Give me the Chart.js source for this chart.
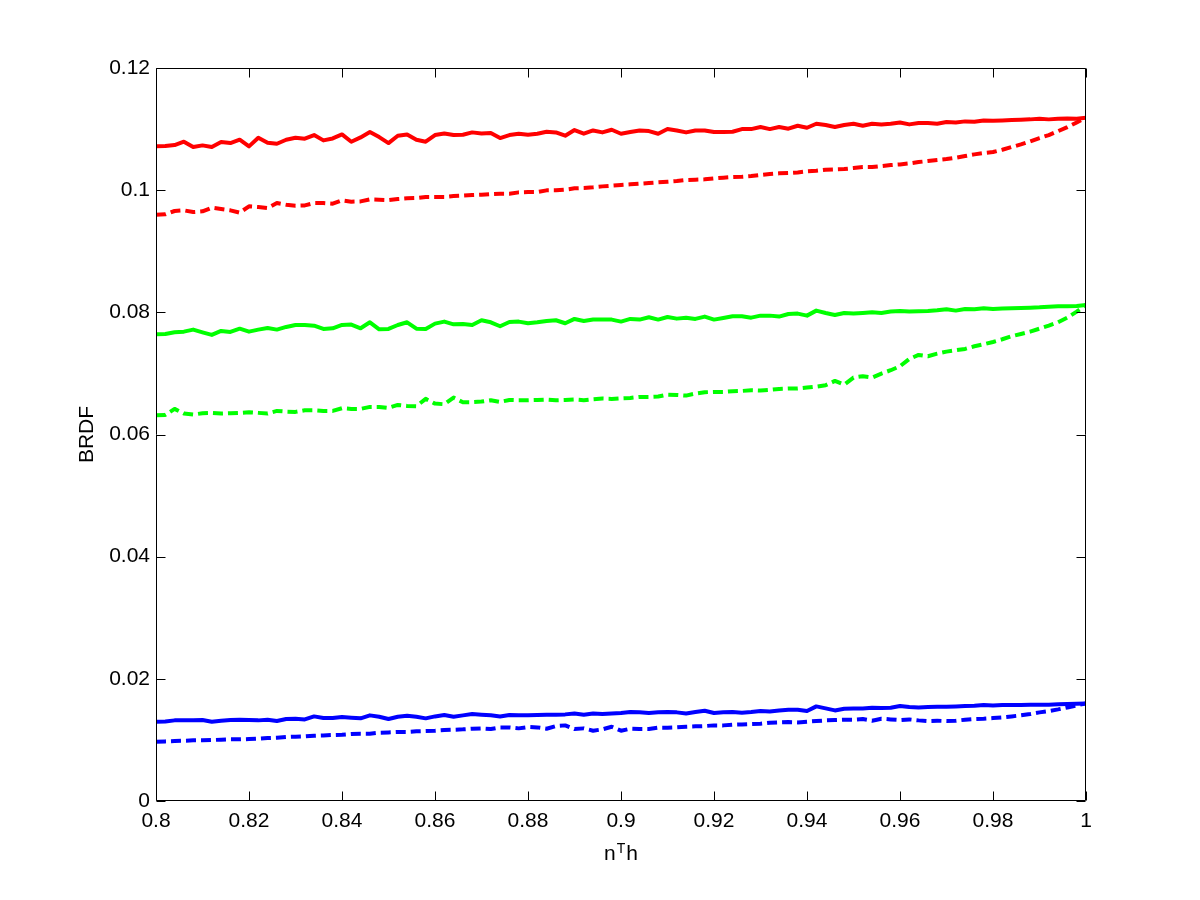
<!DOCTYPE html>
<html>
<head>
<meta charset="utf-8">
<script src="https://cdn.jsdelivr.net/npm/chart.js@4.4.1/dist/chart.umd.min.js"></script>
<style>
  html, body { margin: 0; padding: 0; background: #fff; }
  #wrap { width: 1200px; height: 900px; }
</style>
</head>
<body>
<div id="wrap"><canvas id="brdf" width="1200" height="900"></canvas></div>
<script>
// BRDF vs n^T h, solid and dashed curves per colour channel

const nTh = [
  0.800, 0.802, 0.804, 0.806, 0.808, 0.810, 0.812, 0.814, 0.816, 0.818,
  0.820, 0.822, 0.824, 0.826, 0.828, 0.830, 0.832, 0.834, 0.836, 0.838,
  0.840, 0.842, 0.844, 0.846, 0.848, 0.850, 0.852, 0.854, 0.856, 0.858,
  0.860, 0.862, 0.864, 0.866, 0.868, 0.870, 0.872, 0.874, 0.876, 0.878,
  0.880, 0.882, 0.884, 0.886, 0.888, 0.890, 0.892, 0.894, 0.896, 0.898,
  0.900, 0.902, 0.904, 0.906, 0.908, 0.910, 0.912, 0.914, 0.916, 0.918,
  0.920, 0.922, 0.924, 0.926, 0.928, 0.930, 0.932, 0.934, 0.936, 0.938,
  0.940, 0.942, 0.944, 0.946, 0.948, 0.950, 0.952, 0.954, 0.956, 0.958,
  0.960, 0.962, 0.964, 0.966, 0.968, 0.970, 0.972, 0.974, 0.976, 0.978,
  0.980, 0.982, 0.984, 0.986, 0.988, 0.990, 0.992, 0.994, 0.996, 0.998,
  1.000
];

const redSolid = [
  0.10717, 0.10722, 0.10738, 0.10793, 0.10706, 0.10733, 0.10706, 0.10787, 0.10771, 0.10826,
  0.10717, 0.10858, 0.10776, 0.10760, 0.10826, 0.10858, 0.10842, 0.10902, 0.10815, 0.10847,
  0.10913, 0.10793, 0.10864, 0.10951, 0.10869, 0.10771, 0.10891, 0.10913, 0.10826, 0.10793,
  0.10902, 0.10929, 0.10902, 0.10907, 0.10946, 0.10929, 0.10935, 0.10853, 0.10902, 0.10924,
  0.10907, 0.10924, 0.10957, 0.10946, 0.10891, 0.10984, 0.10924, 0.10978, 0.10946, 0.10989,
  0.10924, 0.10951, 0.10978, 0.10967, 0.10924, 0.11000, 0.10978, 0.10946, 0.10978, 0.10978,
  0.10951, 0.10951, 0.10957, 0.11000, 0.11000, 0.11033, 0.11000, 0.11033, 0.11006, 0.11055,
  0.11022, 0.11087, 0.11066, 0.11033, 0.11066, 0.11087, 0.11055, 0.11087, 0.11077, 0.11087,
  0.11109, 0.11077, 0.11098, 0.11098, 0.11087, 0.11115, 0.11109, 0.11126, 0.11120, 0.11142,
  0.11137, 0.11142, 0.11148, 0.11153, 0.11159, 0.11169, 0.11159, 0.11169, 0.11175, 0.11169,
  0.11186
];

const redDashed = [
  0.09599, 0.09604, 0.09659, 0.09670, 0.09642, 0.09653, 0.09713, 0.09691, 0.09670, 0.09631,
  0.09735, 0.09724, 0.09708, 0.09789, 0.09762, 0.09746, 0.09751, 0.09789, 0.09789, 0.09778,
  0.09833, 0.09811, 0.09816, 0.09849, 0.09844, 0.09838, 0.09855, 0.09866, 0.09871, 0.09888,
  0.09888, 0.09888, 0.09904, 0.09910, 0.09920, 0.09926, 0.09937, 0.09942, 0.09942, 0.09964,
  0.09969, 0.09969, 0.09997, 0.09997, 0.10008, 0.10030, 0.10035, 0.10046, 0.10062, 0.10073,
  0.10084, 0.10095, 0.10106, 0.10117, 0.10128, 0.10138, 0.10149, 0.10166, 0.10171, 0.10177,
  0.10193, 0.10204, 0.10215, 0.10220, 0.10231, 0.10248, 0.10264, 0.10275, 0.10280, 0.10291,
  0.10308, 0.10318, 0.10335, 0.10340, 0.10346, 0.10362, 0.10378, 0.10378, 0.10395, 0.10411,
  0.10422, 0.10438, 0.10460, 0.10477, 0.10493, 0.10509, 0.10531, 0.10558, 0.10586, 0.10608,
  0.10624, 0.10662, 0.10706, 0.10749, 0.10798, 0.10853, 0.10902, 0.10967, 0.11033, 0.11109,
  0.11186
];

const greenSolid = [
  0.07641, 0.07646, 0.07673, 0.07684, 0.07717, 0.07673, 0.07630, 0.07695, 0.07679, 0.07733,
  0.07684, 0.07717, 0.07744, 0.07717, 0.07761, 0.07793, 0.07793, 0.07782, 0.07728, 0.07739,
  0.07793, 0.07799, 0.07739, 0.07837, 0.07722, 0.07728, 0.07793, 0.07837, 0.07733, 0.07728,
  0.07815, 0.07848, 0.07804, 0.07810, 0.07793, 0.07870, 0.07837, 0.07772, 0.07842, 0.07848,
  0.07821, 0.07837, 0.07859, 0.07870, 0.07821, 0.07892, 0.07859, 0.07881, 0.07881, 0.07881,
  0.07848, 0.07892, 0.07881, 0.07919, 0.07881, 0.07924, 0.07897, 0.07913, 0.07892, 0.07930,
  0.07881, 0.07908, 0.07935, 0.07935, 0.07913, 0.07946, 0.07946, 0.07930, 0.07973, 0.07979,
  0.07946, 0.08028, 0.07990, 0.07957, 0.07990, 0.07979, 0.07990, 0.08001, 0.07990, 0.08012,
  0.08022, 0.08012, 0.08017, 0.08022, 0.08033, 0.08050, 0.08028, 0.08055, 0.08050, 0.08066,
  0.08055, 0.08061, 0.08066, 0.08071, 0.08077, 0.08082, 0.08093, 0.08099, 0.08099, 0.08104,
  0.08121
];

const greenDashed = [
  0.06315, 0.06321, 0.06419, 0.06343, 0.06326, 0.06348, 0.06354, 0.06343, 0.06348, 0.06354,
  0.06364, 0.06354, 0.06343, 0.06386, 0.06375, 0.06370, 0.06397, 0.06397, 0.06386, 0.06386,
  0.06430, 0.06419, 0.06419, 0.06452, 0.06452, 0.06435, 0.06484, 0.06468, 0.06463, 0.06583,
  0.06506, 0.06495, 0.06604, 0.06528, 0.06528, 0.06539, 0.06561, 0.06534, 0.06566, 0.06561,
  0.06561, 0.06566, 0.06572, 0.06561, 0.06566, 0.06572, 0.06561, 0.06577, 0.06588, 0.06583,
  0.06593, 0.06599, 0.06615, 0.06615, 0.06621, 0.06653, 0.06648, 0.06637, 0.06670, 0.06692,
  0.06697, 0.06697, 0.06708, 0.06713, 0.06724, 0.06719, 0.06730, 0.06746, 0.06752, 0.06752,
  0.06768, 0.06784, 0.06806, 0.06877, 0.06817, 0.06932, 0.06954, 0.06932, 0.06997, 0.07052,
  0.07117, 0.07237, 0.07303, 0.07281, 0.07324, 0.07357, 0.07379, 0.07401, 0.07444, 0.07477,
  0.07515, 0.07559, 0.07608, 0.07646, 0.07684, 0.07733, 0.07782, 0.07837, 0.07913, 0.08012,
  0.08121
];

const blueSolid = [
  0.01298, 0.01303, 0.01320, 0.01320, 0.01320, 0.01325, 0.01298, 0.01314, 0.01325, 0.01331,
  0.01325, 0.01320, 0.01331, 0.01309, 0.01342, 0.01347, 0.01336, 0.01385, 0.01358, 0.01358,
  0.01374, 0.01363, 0.01353, 0.01402, 0.01380, 0.01342, 0.01380, 0.01396, 0.01380, 0.01353,
  0.01385, 0.01407, 0.01380, 0.01402, 0.01423, 0.01413, 0.01402, 0.01385, 0.01407, 0.01402,
  0.01402, 0.01407, 0.01413, 0.01413, 0.01418, 0.01434, 0.01413, 0.01434, 0.01423, 0.01434,
  0.01440, 0.01456, 0.01451, 0.01440, 0.01451, 0.01456, 0.01451, 0.01434, 0.01456, 0.01478,
  0.01440, 0.01451, 0.01456, 0.01445, 0.01456, 0.01472, 0.01467, 0.01483, 0.01494, 0.01494,
  0.01472, 0.01549, 0.01516, 0.01483, 0.01511, 0.01516, 0.01516, 0.01527, 0.01522, 0.01527,
  0.01554, 0.01538, 0.01532, 0.01538, 0.01543, 0.01543, 0.01549, 0.01554, 0.01560, 0.01571,
  0.01565, 0.01571, 0.01571, 0.01571, 0.01576, 0.01576, 0.01576, 0.01582, 0.01587, 0.01593,
  0.01598
];

const blueDashed = [
  0.00971, 0.00976, 0.00982, 0.00987, 0.00993, 0.00993, 0.00998, 0.01004, 0.01009, 0.01009,
  0.01014, 0.01020, 0.01031, 0.01036, 0.01047, 0.01053, 0.01058, 0.01069, 0.01074, 0.01080,
  0.01085, 0.01096, 0.01102, 0.01102, 0.01118, 0.01123, 0.01129, 0.01129, 0.01140, 0.01145,
  0.01151, 0.01162, 0.01167, 0.01173, 0.01183, 0.01189, 0.01178, 0.01205, 0.01205, 0.01189,
  0.01211, 0.01205, 0.01183, 0.01227, 0.01238, 0.01178, 0.01189, 0.01151, 0.01173, 0.01216,
  0.01151, 0.01183, 0.01178, 0.01178, 0.01200, 0.01200, 0.01205, 0.01216, 0.01222, 0.01227,
  0.01238, 0.01238, 0.01249, 0.01254, 0.01260, 0.01265, 0.01282, 0.01287, 0.01292, 0.01287,
  0.01298, 0.01309, 0.01320, 0.01325, 0.01331, 0.01331, 0.01342, 0.01314, 0.01347, 0.01336,
  0.01325, 0.01336, 0.01320, 0.01309, 0.01314, 0.01309, 0.01314, 0.01331, 0.01342, 0.01347,
  0.01358, 0.01369, 0.01385, 0.01402, 0.01423, 0.01451, 0.01472, 0.01500, 0.01532, 0.01565,
  0.01598
];

const xTicks = [0.8, 0.82, 0.84, 0.86, 0.88, 0.9, 0.92, 0.94, 0.96, 0.98, 1];
const xTickLabels = ["0.8", "0.82", "0.84", "0.86", "0.88", "0.9", "0.92", "0.94", "0.96", "0.98", "1"];
const yTicks = [0, 0.02, 0.04, 0.06, 0.08, 0.1, 0.12];
const yTickLabels = ["0", "0.02", "0.04", "0.06", "0.08", "0.1", "0.12"];

const FONT = "'Liberation Sans', Arial, Helvetica, sans-serif";
Chart.defaults.font.family = FONT;
Chart.defaults.color = "#000";

function series(label, values, color, dashed) {
  return {
    label: label,
    data: nTh.map((x, i) => ({ x: x, y: values[i] })),
    borderColor: color,
    backgroundColor: color,
    borderWidth: 4,
    borderDash: dashed ? [10, 5] : [],
    borderJoinStyle: "round",
    pointRadius: 0,
    fill: false,
    tension: 0
  };
}

// white background, box with inward ticks on all four sides, and the n^T h label
const matlabFrame = {
  id: "matlabFrame",
  beforeDraw(c) {
    const ctx = c.ctx;
    ctx.save();
    ctx.fillStyle = "#fff";
    ctx.fillRect(0, 0, c.width, c.height);
    ctx.restore();
  },
  afterDraw(c) {
    const { ctx, chartArea: a, scales: { x, y } } = c;
    const L = Math.round(a.left) + 0.5, R = Math.round(a.right) - 0.5;
    const T = Math.round(a.top) + 0.5, B = Math.round(a.bottom) - 0.5;
    const tick = 9;
    ctx.save();
    ctx.strokeStyle = "#000";
    ctx.lineWidth = 1;
    ctx.beginPath();
    ctx.rect(L, T, R - L, B - T);
    xTicks.forEach(v => {
      const px = Math.round(x.getPixelForValue(v)) + 0.5;
      ctx.moveTo(px, B); ctx.lineTo(px, B - tick);
      ctx.moveTo(px, T); ctx.lineTo(px, T + tick);
    });
    yTicks.forEach(v => {
      const py = Math.round(y.getPixelForValue(v)) + 0.5;
      ctx.moveTo(L, py); ctx.lineTo(L + tick, py);
      ctx.moveTo(R, py); ctx.lineTo(R - tick, py);
    });
    ctx.stroke();

    // x label: n^T h
    ctx.fillStyle = "#000";
    ctx.textBaseline = "alphabetic";
    ctx.textAlign = "left";
    const big = "21px " + FONT, small = "14px " + FONT;
    ctx.font = big;
    const wn = ctx.measureText("n").width, wh = ctx.measureText("h").width;
    ctx.font = small;
    const wt = ctx.measureText("T").width;
    const cx = (a.left + a.right) / 2;
    let sx = cx - (wn + wt + wh + 2) / 2;
    ctx.font = big;
    ctx.fillText("n", sx, 860);
    ctx.font = small;
    ctx.fillText("T", sx + wn + 1, 853);
    ctx.font = big;
    ctx.fillText("h", sx + wn + wt + 2, 860);
    ctx.restore();
  }
};

new Chart(document.getElementById("brdf"), {
  type: "line",
  data: {
    datasets: [
      series("red", redSolid, "#ff0000", false),
      series("red dashed", redDashed, "#ff0000", true),
      series("green", greenSolid, "#00ff00", false),
      series("green dashed", greenDashed, "#00ff00", true),
      series("blue", blueSolid, "#0000ff", false),
      series("blue dashed", blueDashed, "#0000ff", true)
    ]
  },
  options: {
    responsive: false,
    animation: false,
    layout: { padding: { top: 68, right: 114, left: 0, bottom: 0 } },
    plugins: { legend: { display: false }, tooltip: { enabled: false } },
    scales: {
      x: {
        type: "linear",
        min: 0.8,
        max: 1,
        grid: { display: false, drawTicks: false },
        border: { display: false },
        afterBuildTicks: s => { s.ticks = xTicks.map(v => ({ value: v })); },
        afterFit: s => { s.height = 99; },
        ticks: {
          callback: (v, i) => xTickLabels[i],
          padding: 8,
          maxRotation: 0,
          autoSkip: false,
          color: "#000",
          font: { size: 21 }
        }
      },
      y: {
        type: "linear",
        min: 0,
        max: 0.12,
        grid: { display: false, drawTicks: false },
        border: { display: false },
        afterBuildTicks: s => { s.ticks = yTicks.map(v => ({ value: v })); },
        afterFit: s => { s.width = 156; },
        ticks: {
          callback: (v, i) => yTickLabels[i],
          padding: 6,
          autoSkip: false,
          color: "#000",
          font: { size: 21 }
        },
        title: {
          display: true,
          text: "BRDF",
          color: "#000",
          font: { size: 21 },
          padding: { top: 75, bottom: 0 }
        }
      }
    }
  },
  plugins: [matlabFrame]
});
</script>
</body>
</html>
